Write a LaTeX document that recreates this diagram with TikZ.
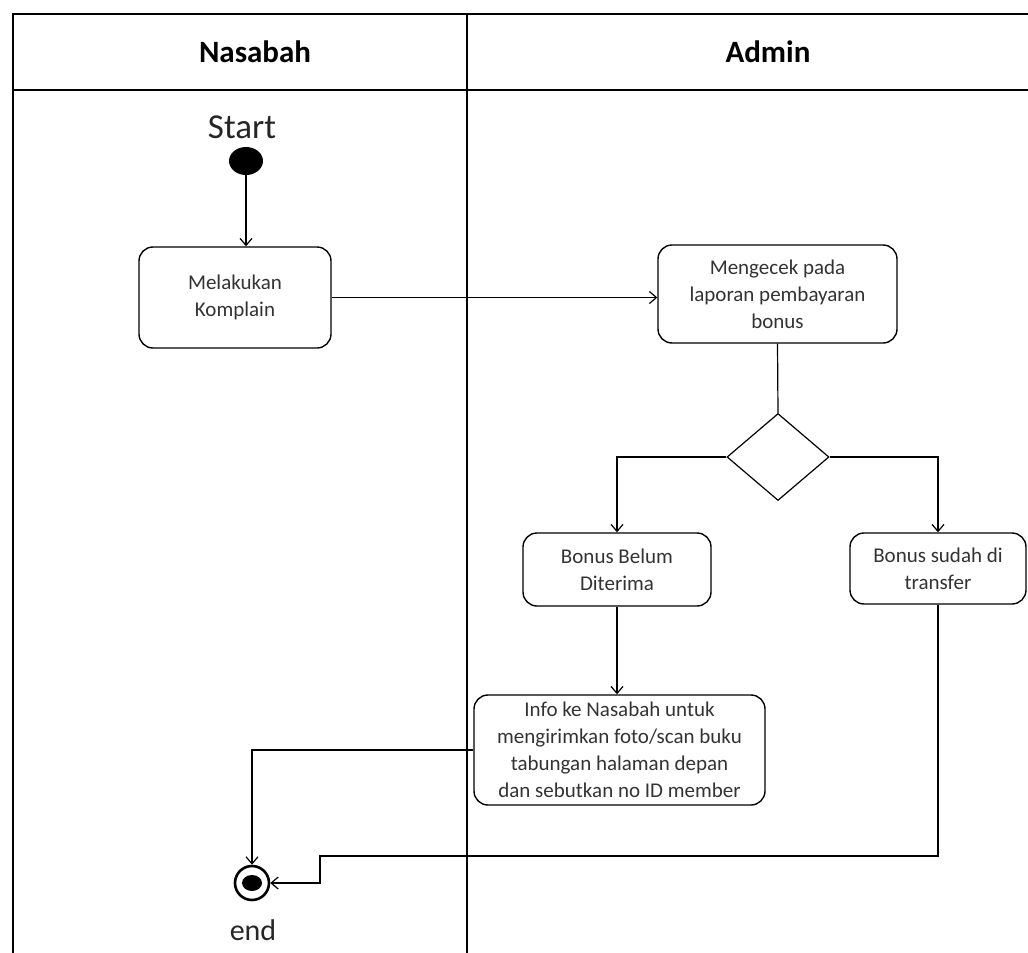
\documentclass[tikz,border=0pt]{standalone}
\usepackage{fontspec}
\setmainfont{Carlito}
\usetikzlibrary{shapes.geometric,arrows.meta,calc}
\tikzset{
  lane/.style={line width=1.5pt, draw=black},
  act/.style={draw=black, line width=1.4pt, rounded corners=14pt, align=center,
    font=\fontsize{21}{27}\selectfont, text=black!80, inner sep=2pt},
  flow/.style={line width=1.2pt, -{Straight Barb[length=7pt,width=12pt,line width=1.2pt]}},
  plain/.style={line width=1.2pt},
  title/.style={font=\fontsize{31}{34}\selectfont\bfseries},
}
\begin{document}
\begin{tikzpicture}[x=1pt,y=-1pt]
\useasboundingbox (0,0) rectangle (1028,953);
\fill[white] (0,0) rectangle (1028,953);
% swimlanes
\draw[lane] (13,953) -- (13,14) -- (1028,14);
\draw[lane] (13,90) -- (1028,90);
\draw[lane] (467,14) -- (467,953);
\node[title] (tn) at (255,52) {Nasabah};
\node[title] (ta) at (768,52) {Admin};
% start
\node[font=\fontsize{35}{38}\selectfont, text=black!85] (stxt) at (242,127) {Start};
\node[ellipse, fill=black, minimum width=34pt, minimum height=28pt, inner sep=0pt] (start) at (246,161) {};
% activities
\node[act, minimum width=192pt, minimum height=101pt] (mk) at (235,297.5) {Melakukan\\Komplain};
\node[act, minimum width=239pt, minimum height=98pt] (mc) at (777.5,294) {Mengecek pada\\laporan pembayaran\\bonus};
\node[diamond, draw=black, line width=1.2pt, minimum width=102pt, minimum height=87pt, inner sep=0pt] (dia) at (778,457) {};
\node[act, minimum width=188pt, minimum height=73pt] (bb) at (617,569.5) {Bonus Belum\\Diterima};
\node[act, minimum width=176pt, minimum height=71pt] (bs) at (938,568.5) {Bonus sudah di\\transfer};
\node[act, minimum width=291pt, minimum height=110pt] (info) at (619.5,750) {Info ke Nasabah untuk\\mengirimkan foto/scan buku\\tabungan halaman depan\\dan sebutkan no ID member};
% end
\node[circle, draw=black, line width=2.6pt, minimum width=34pt, minimum height=34pt, inner sep=0pt] (end) at (252,883) {};
\node[ellipse, fill=black, minimum width=20pt, minimum height=16pt, inner sep=0pt] (endin) at (252,883) {};
\node[font=\fontsize{30}{33}\selectfont, text=black!85] (etxt) at (253,930) {end};
\coordinate (c1) at (320,856);
% connectors
\draw[flow] (start.south) -- (start.south |- mk.north);
\draw[flow] (mk.east) -- (mk.east -| mc.west);
\draw[plain] (mc.south) -- (dia.north);
\draw[flow] (dia.west) -| (bb.north);
\draw[flow] (dia.east) -| (bs.north);
\draw[flow] (bb.south) -- (bb.south |- info.north);
\draw[flow] (info.west) -| (end.north);
\draw[flow] (bs.south) -- (bs.south |- c1) -- (c1) |- (end.east);
\end{tikzpicture}
\end{document}
